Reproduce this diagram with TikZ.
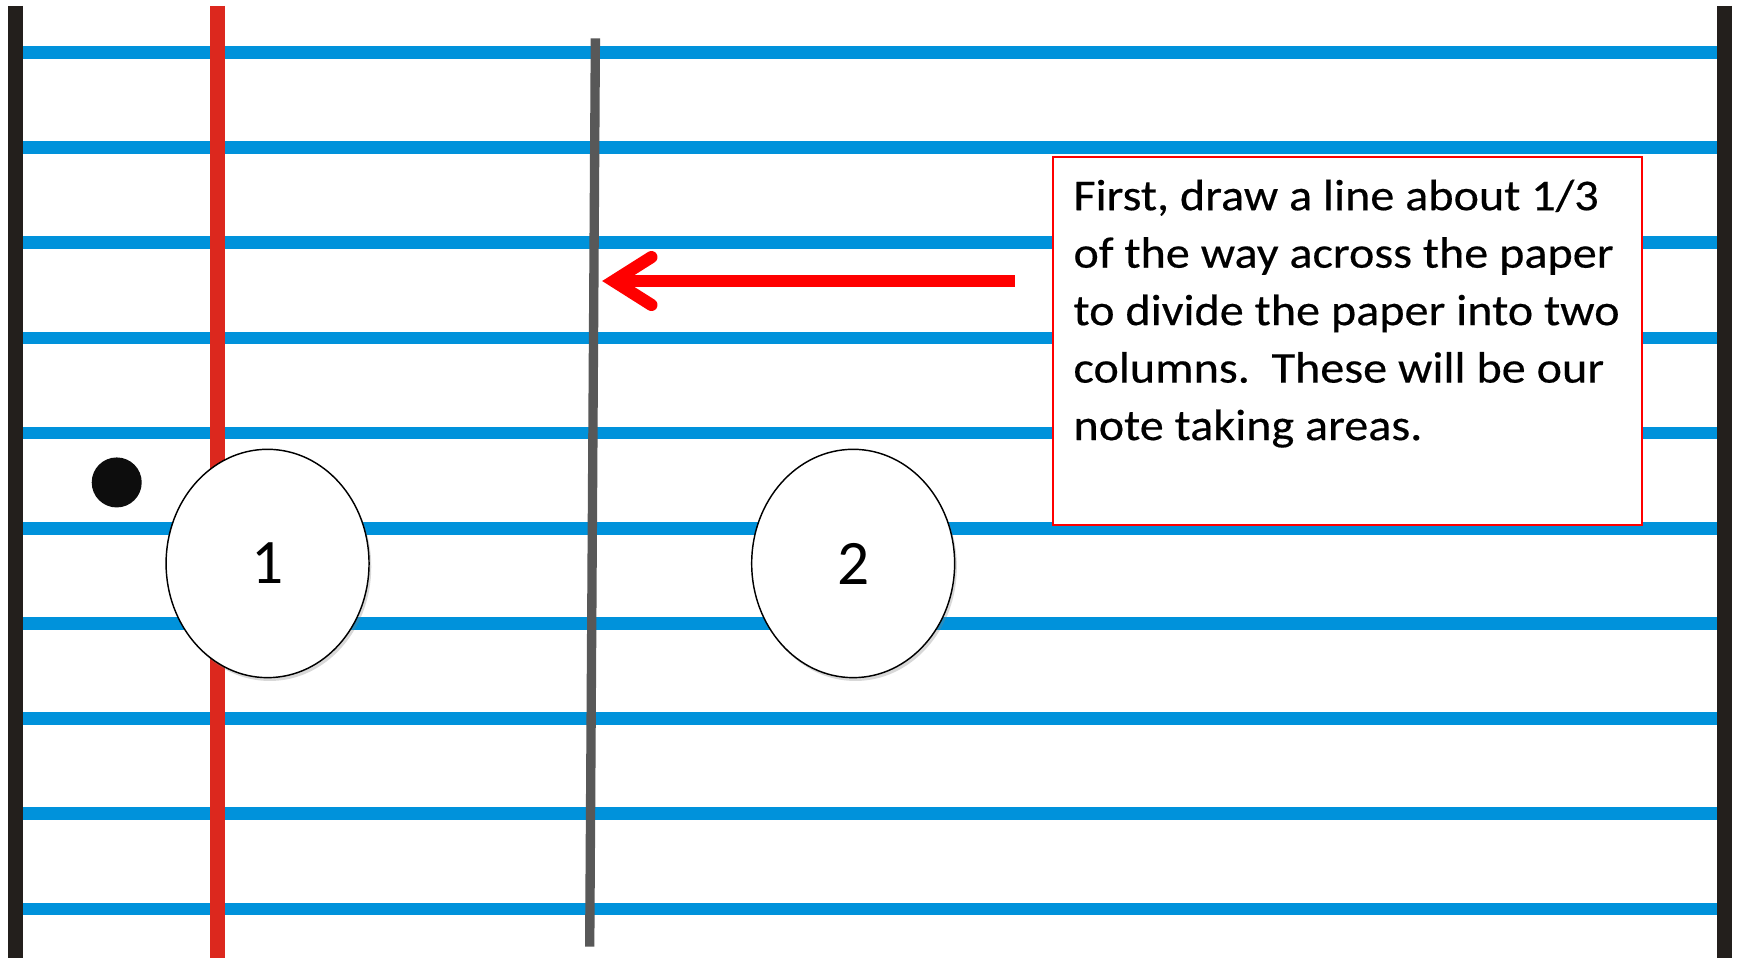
\documentclass[tikz,border=0pt]{standalone}
\usepackage{fontspec}
\setmainfont{Carlito}
\newfontfamily\notefont[FakeStretch=1.094,FakeBold=0.4]{Carlito}
\usetikzlibrary{shapes.geometric,shadows}
\definecolor{ruleblue}{RGB}{0,146,219}
\definecolor{edgeblack}{RGB}{35,31,28}
\definecolor{marginred}{RGB}{220,40,30}
\definecolor{divgray}{RGB}{88,88,88}
\definecolor{arrowred}{RGB}{255,0,0}
\definecolor{dotblack}{RGB}{13,13,13}
\begin{document}
\begin{tikzpicture}[x=1pt,y=-1pt,
  rule/.style={ruleblue,line width=11.5pt},
  edgeline/.style={edgeblack,line width=14pt},
  marginline/.style={marginred,line width=13pt},
  divline/.style={divgray,line width=8.4pt},
  bubble/.style={ellipse,draw=black,line width=1.3pt,fill=white,
    minimum width=182.6pt,minimum height=205.4pt,inner sep=0pt,
    font=\fontsize{57}{60}\selectfont,
    drop shadow={shadow xshift=2pt,shadow yshift=-3pt,opacity=0.3}},
  notebox/.style={draw=arrowred,line width=1.8pt,fill=white,
    minimum width=530pt,minimum height=331pt,inner sep=0pt},
  notetext/.style={anchor=north west,inner sep=0pt,align=left,
    font=\notefont\fontsize{39.6}{51.7}\selectfont},
  pointer/.style={arrowred,line width=10.5pt},
  pointerhead/.style={arrowred,line width=11pt,line cap=round,line join=miter}
]
\useasboundingbox[fill=white] (0,0) rectangle (1568,861);
% blue rules
\foreach \i in {0,...,9}{
  \draw[rule] (21,{47.1+85.63*\i}) -- (1545,{47.1+85.63*\i});
}
% side edges
\coordinate (lefttop) at (14.1,5.4);
\coordinate (leftbot) at (14.1,870);
\coordinate (righttop) at (1551.5,5.4);
\coordinate (rightbot) at (1551.5,870);
\draw[edgeline] (lefttop) -- (leftbot);
\draw[edgeline] (righttop) -- (rightbot);
% red margin
\coordinate (margintop) at (195.7,5.4);
\coordinate (marginbot) at (195.7,870);
\draw[marginline] (margintop) -- (marginbot);
% divider
\coordinate (divtop) at (535.6,34.5);
\coordinate (divbot) at (530.5,851.6);
\draw[divline] (divtop) -- (divbot);
% hole punch dot
\node[circle,fill=dotblack,minimum size=45pt,inner sep=0pt] (dot) at (105,434) {};
% bubbles
\node[bubble] (one) at (240.7,506.9) {1};
\node[bubble] (two) at (767.5,506.9) {2};
% note box
\node[notebox] (box) at (1212,306.5) {};
\node[notetext] (note) at (965.5,161.4) {First, draw a line about 1/3\\of the way across the paper\\to divide the paper into two\\columns.\ \ These will be our\\note taking areas.};
% arrow
\coordinate (arrowstart) at (913,252.8);
\coordinate (arrowtip) at (539,252.8);
\draw[pointer] (arrowstart) -- ([xshift=12pt]arrowtip);
\draw[pointerhead] ([shift={(47,-21.5)}]arrowtip) -- ([xshift=13pt]arrowtip) -- ([shift={(47,21.5)}]arrowtip);
\end{tikzpicture}
\end{document}
